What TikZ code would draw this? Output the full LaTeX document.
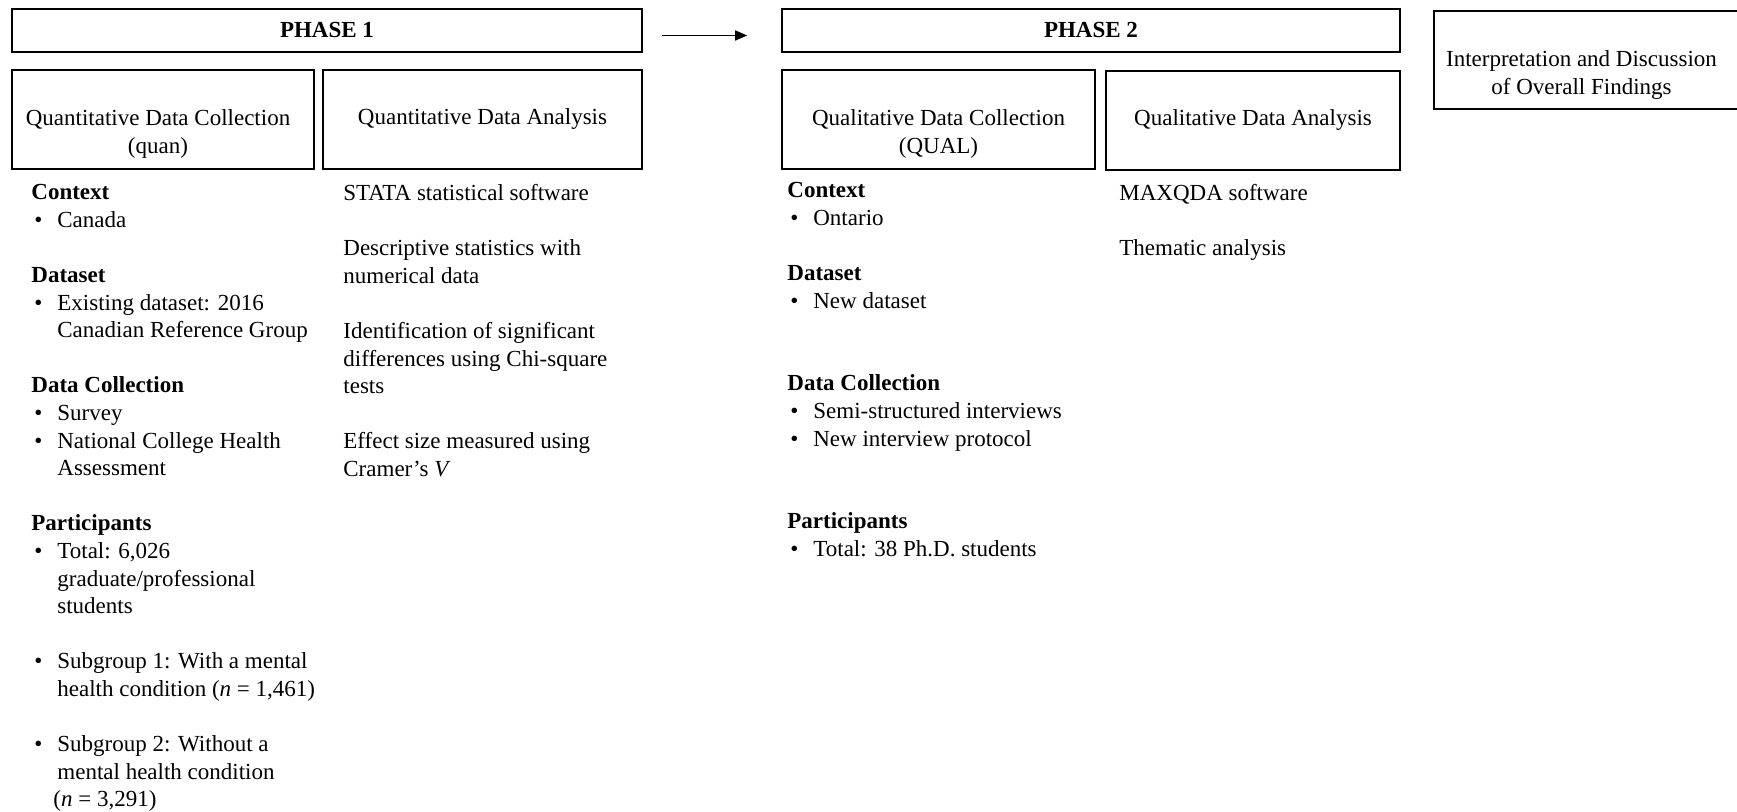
\documentclass[tikz,border=0pt]{standalone}
\usepackage{fontspec}
\setmainfont{Liberation Serif}
\usetikzlibrary{arrows.meta}

\newcommand{\bpt}{\makebox[13pt][l]{\hspace*{1.5pt}\textbullet}}
\newcommand{\bcont}{\hspace*{13pt}}

\begin{document}
\begin{tikzpicture}
  [x=0.5pt,y=-0.5pt,
   every node/.style={font=\fontsize{11.5}{13.8}\selectfont},
   phase/.style={draw,line width=0.8pt,minimum height=21.5pt,font=\fontsize{11.5}{13.8}\selectfont\bfseries},
   subbox/.style={draw,line width=0.8pt,minimum height=49.5pt},
   boxlbl/.style={align=center,inner sep=0pt},
   items/.style={align=left,anchor=north west,inner sep=0pt}]
  \useasboundingbox (0,0) rectangle (1737,812);

  \node[phase,minimum width=315pt] (p1) at (327,30.5) {PHASE 1};
  \node[phase,minimum width=309pt] (p2) at (1091,30.5) {PHASE 2};
  \draw[line width=0.8pt,-{Triangle[length=6pt,width=5pt]}] ([xshift=9.5pt,yshift=-2.5pt]p1.east) -- ([xshift=-17pt,yshift=-2.5pt]p2.west);

  \node[subbox,minimum width=151pt] (qnDC) at (163,119.5) {};
  \node[boxlbl] (qnDCl) at ([xshift=-2.5pt,yshift=-7.25pt]qnDC.center) {Quantitative Data Collection\\(quan)};
  \node[subbox,minimum width=159.5pt] (qnDA) at (482.5,119.5) {};
  \node[boxlbl] (qnDAl) at (qnDA.center) {Quantitative Data Analysis};
  \node[subbox,minimum width=156.5pt] (qlDC) at (938.5,119.5) {};
  \node[boxlbl] (qlDCl) at ([yshift=-7.25pt]qlDC.center) {Qualitative Data Collection\\(QUAL)};
  \node[subbox,minimum width=147pt] (qlDA) at (1253,120.5) {};
  \node[boxlbl] (qlDAl) at (qlDA.center) {Qualitative Data Analysis};
  \node[subbox,minimum width=155.5pt,minimum height=49pt] (interp) at (1589.5,60) {};
  \node[boxlbl] (interpl) at ([xshift=-4pt,yshift=-7.5pt]interp.center) {Interpretation and Discussion\\of Overall Findings};

  % phase 1 columns
  \node[items] (quan) at (31,184) {\textbf{Context}\\
    \bpt Canada\\[13.8pt]
    \textbf{Dataset}\\
    \bpt Existing dataset: 2016\\
    \bcont Canadian Reference Group\\[13.8pt]
    \textbf{Data Collection}\\
    \bpt Survey\\
    \bpt National College Health\\
    \bcont Assessment\\[13.8pt]
    \textbf{Participants}\\
    \bpt Total: 6,026\\
    \bcont graduate/professional\\
    \bcont students\\[13.8pt]
    \bpt Subgroup 1: With a mental\\
    \bcont health condition (\textit{n} = 1,461)\\[13.8pt]
    \bpt Subgroup 2: Without a\\
    \bcont mental health condition\\
    \hspace*{11pt}(\textit{n} = 3,291)};
  \node[items] (quananal) at (343,184) {STATA statistical software\\[13.8pt]
    Descriptive statistics with\\
    numerical data\\[13.8pt]
    Identification of significant\\
    differences using Chi-square\\
    tests\\[13.8pt]
    Effect size measured using\\
    Cramer’s \textit{V}};

  % phase 2 columns
  \node[items] (qual) at (787,182) {\textbf{Context}\\
    \bpt Ontario\\[13.8pt]
    \textbf{Dataset}\\
    \bpt New dataset\\[27.6pt]
    \textbf{Data Collection}\\
    \bpt Semi-structured interviews\\
    \bpt New interview protocol\\[27.6pt]
    \textbf{Participants}\\
    \bpt Total: 38 Ph.D. students};
  \node[items] (qualanal) at (1119,184) {MAXQDA software\\[13.8pt]
    Thematic analysis};

\end{tikzpicture}
\end{document}
